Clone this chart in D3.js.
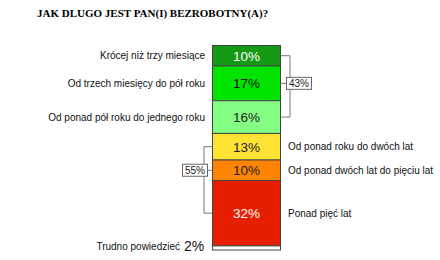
<!DOCTYPE html>
<html lang="pl">
<head>
<meta charset="UTF-8">
<title>Jak dlugo jest pan(i) bezrobotny(a)?</title>
<script src="https://cdn.jsdelivr.net/npm/d3@7"></script>
<style>
  body { margin: 0; background: #fff; }
  text { font-family: Arial, "Liberation Sans", sans-serif; }
  text.title { font-family: "Liberation Serif", "Times New Roman", serif; }
</style>
</head>
<body>
<script>
// data
const categories = [
  "Krócej niż trzy miesiące",
  "Od trzech miesięcy do pół roku",
  "Od ponad pół roku do jednego roku",
  "Od ponad roku do dwóch lat",
  "Od ponad dwóch lat do pięciu lat",
  "Ponad pięć lat",
  "Trudno powiedzieć"
];
const values = [10, 17, 16, 13, 10, 32, 2];
const colors = ["#159a15", "#00e400", "#84ff84", "#ffe233", "#ff8400", "#e81e00", "#ffffff"];
const labelColors = ["#fff", "#111", "#222", "#222", "#222", "#fff", "#222"];
const labelSide = ["left", "left", "left", "right", "right", "right", "left"];
const groups = [
  { label: "43%", from: 0, to: 2, side: "right" },
  { label: "55%", from: 3, to: 5, side: "left" }
];

var width = 440, height = 260;
var svg = d3.select("body").append("svg")
  .attr("width", width)
  .attr("height", height);

// title
svg.append("text")
  .attr("class", "title")
  .attr("x", 37).attr("y", 17)
  .style("font-weight", "bold")
  .style("font-size", "11px")
  .text("JAK DLUGO JEST PAN(I) BEZROBOTNY(A)?");

// stacked segments
var cum = [];
values.reduce((acc, v, i) => { cum.push([acc, acc + v]); return acc + v; }, 0);

var y = d3.scaleLinear().domain([0, d3.sum(values)]).range([45.5, 250]);
var x0 = 212.5, x1 = 280.5;

var seg = svg.selectAll("g.seg")
  .data(values)
  .enter().append("g").attr("class", "seg");

seg.append("rect")
  .attr("x", x0)
  .attr("y", (d, i) => y(cum[i][0]))
  .attr("width", x1 - x0)
  .attr("height", (d, i) => y(cum[i][1]) - y(cum[i][0]))
  .attr("fill", (d, i) => colors[i])
  .attr("stroke", "#444")
  .attr("stroke-width", 1);

var mid = i => (y(cum[i][0]) + y(cum[i][1])) / 2;

// percent labels inside the bar (not for the tiny last one)
seg.filter((d, i) => i < values.length - 1)
  .append("text")
  .attr("x", (x0 + x1) / 2)
  .attr("y", (d, i) => mid(i) + 5)
  .attr("text-anchor", "middle")
  .style("font-size", "13.5px")
  .attr("fill", (d, i) => labelColors[i])
  .text(d => d + "%");

// category labels
seg.filter((d, i) => i < values.length - 1)
  .append("text")
  .attr("x", (d, i) => labelSide[i] === "left" ? 205 : 288)
  .attr("y", (d, i) => mid(i) + 3.5)
  .attr("text-anchor", (d, i) => labelSide[i] === "left" ? "end" : "start")
  .style("font-size", "10px")
  .attr("fill", "#111")
  .text((d, i) => categories[i]);

// last category: label + bigger value outside
var last = values.length - 1;
svg.append("text")
  .attr("x", 180).attr("y", 250)
  .attr("text-anchor", "end")
  .style("font-size", "10px")
  .attr("fill", "#111")
  .text(categories[last]);
svg.append("text")
  .attr("x", 184).attr("y", 251)
  .style("font-size", "14px")
  .attr("fill", "#111")
  .text(values[last] + "%");

// brackets
groups.forEach(g => {
  var top = mid(g.from), bot = mid(g.to);
  var c = mid(Math.round((g.from + g.to) / 2));
  var edge = g.side === "right" ? x1 : x0;
  var bx = g.side === "right" ? x1 + 9.5 : x0 - 8.5;
  var line = d3.line();
  svg.append("path")
    .attr("d", line([[edge, top], [bx, top], [bx, bot], [edge, bot]]))
    .attr("fill", "none")
    .attr("stroke", "#777")
    .attr("stroke-width", 1);
  svg.append("line")
    .attr("x1", edge).attr("x2", bx).attr("y1", c).attr("y2", c)
    .attr("stroke", "#777");
  var bw = 25, bh = 12;
  var rx = g.side === "right" ? x1 + 6 : x0 - 30;
  svg.append("rect")
    .attr("x", rx).attr("y", c - bh / 2)
    .attr("width", bw).attr("height", bh)
    .attr("fill", "#fff")
    .attr("stroke", "#666");
  svg.append("text")
    .attr("x", rx + bw / 2).attr("y", c + 3.5)
    .attr("text-anchor", "middle")
    .style("font-size", "10px")
    .attr("fill", "#222")
    .text(g.label);
});
</script>
</body>
</html>
